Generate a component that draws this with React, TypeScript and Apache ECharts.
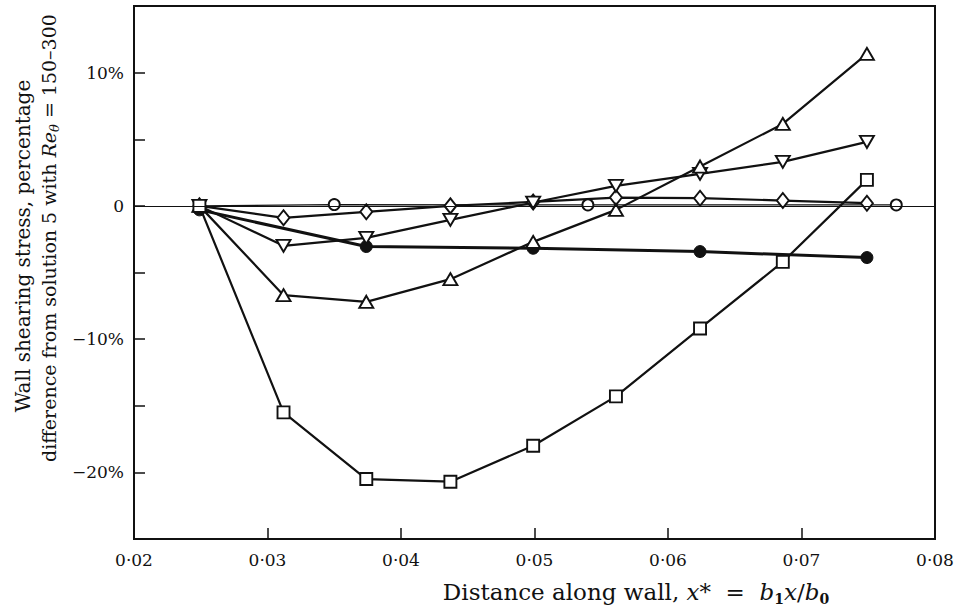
import React, { useEffect, useRef } from 'react';
import * as echarts from 'echarts';

// x* positions of the computed stations
const xStations = [0.0249, 0.0312, 0.0374, 0.0437, 0.0499, 0.0561, 0.0624, 0.0686, 0.0749];
// open squares
const squareY = [0, -15.5, -20.5, -20.7, -18.0, -14.3, -9.2, -4.2, 1.95];
// open triangles (apex up)
const triUpY = [0, -6.7, -7.2, -5.5, -2.7, -0.3, 2.95, 6.15, 11.4];
// open triangles (apex down)
const triDownY = [0, -3.0, -2.4, -1.05, 0.25, 1.5, 2.4, 3.3, 4.8];
// open diamonds
const diamondY = [0, -0.9, -0.45, 0, 0.3, 0.62, 0.58, 0.4, 0.2];
// filled circles
const dotX = [0.0249, 0.0374, 0.0499, 0.0624, 0.0749];
const dotY = [-0.3, -3.05, -3.18, -3.43, -3.88];
// open circles
const circleX = [0.0249, 0.035, 0.054, 0.0771];
const circleY = [0, 0.1, 0.07, 0.07];

// axis ticks / labels
const xMin = 0.02;
const xMax = 0.08;
const xStep = 0.01;
const yMin = -25;
const yMax = 15;
const yStep = 5;
const yLabels: Record<string, string> = { '10': '10%', '0': '0', '-10': '\u221210%', '-20': '\u221220%' };

const FONT = '"DejaVu Serif", "Liberation Serif", serif';
const INK = '#111';

const pair = (xs: number[], ys: number[]) => xs.map((x, i) => [x, ys[i]]);

export default function App() {
  const ref = useRef<HTMLDivElement>(null);
  useEffect(() => {
    if (!ref.current) return;
    const chart = echarts.init(ref.current, undefined, { renderer: 'svg' });
    const openItem = { color: '#fff', borderColor: INK, borderWidth: 1.9 };
    const line = { color: INK, width: 2.2 };
    const base = { type: 'line' as const, showSymbol: true, symbolKeepAspect: true, z: 3 };
    chart.setOption({
      animation: false,
      backgroundColor: '#fff',
      grid: {
        left: 134,
        right: 31,
        top: 6,
        bottom: 74,
        show: true,
        borderColor: INK,
        borderWidth: 2,
        backgroundColor: 'transparent',
      },
      xAxis: {
        type: 'value',
        min: xMin,
        max: xMax,
        interval: xStep,
        axisLine: { show: true, onZero: false, lineStyle: { color: INK, width: 2 } },
        axisTick: { show: true, inside: true, length: 11, lineStyle: { color: INK, width: 1.5 } },
        axisLabel: {
          color: INK,
          fontFamily: FONT,
          fontSize: 17,
          margin: 12,
          formatter: (v: number) => v.toFixed(2).replace('.', '\u00b7'),
        },
        splitLine: { show: false },
      },
      yAxis: {
        type: 'value',
        min: yMin,
        max: yMax,
        interval: yStep,
        axisLine: { show: true, onZero: false, lineStyle: { color: INK, width: 2 } },
        axisTick: { show: true, inside: true, length: 11, lineStyle: { color: INK, width: 1.5 } },
        axisLabel: {
          color: INK,
          fontFamily: FONT,
          fontSize: 17,
          margin: 10,
          formatter: (v: number) => yLabels[String(Math.round(v))] ?? '',
        },
        splitLine: { show: false },
      },
      graphic: [
        {
          type: 'text',
          x: 636,
          y: 592,
          style: {
            text: '{a|Distance along wall, }{i|x}{a|*  =  }{i|b}{s|1}{i|x}{a|/}{i|b}{s|0}',
            textAlign: 'center',
            textVerticalAlign: 'middle',
            fill: INK,
            rich: {
              a: { fontFamily: FONT, fontSize: 23, fill: INK, lineHeight: 28 },
              i: { fontFamily: FONT, fontSize: 23, fontStyle: 'italic', fill: INK, lineHeight: 28 },
              s: { fontFamily: FONT, fontSize: 14, fill: INK, fontWeight: 'bold', lineHeight: 14, verticalAlign: 'bottom' },
            },
          },
        },
        {
          type: 'text',
          x: 23,
          y: 246,
          rotation: Math.PI / 2,
          style: {
            text: 'Wall shearing stress, percentage',
            font: `20px ${FONT}`,
            textAlign: 'center',
            textVerticalAlign: 'middle',
            fill: INK,
          },
        },
        {
          type: 'text',
          x: 49,
          y: 238,
          rotation: Math.PI / 2,
          style: {
            text: '{a|difference from solution 5 with }{i|Re}{s|\u03b8}{a| = 150\u2013300}',
            textAlign: 'center',
            textVerticalAlign: 'middle',
            fill: INK,
            rich: {
              a: { fontFamily: FONT, fontSize: 19, fill: INK, lineHeight: 24 },
              i: { fontFamily: FONT, fontSize: 19, fontStyle: 'italic', fill: INK, lineHeight: 24 },
              s: { fontFamily: FONT, fontSize: 13, fontStyle: 'italic', fill: INK, lineHeight: 13, verticalAlign: 'bottom' },
            },
          },
        },
      ],
      series: [
        {
          ...base,
          name: 'circle',
          data: pair(circleX, circleY),
          symbol: 'circle',
          symbolSize: 11,
          lineStyle: { color: INK, width: 1.2 },
          itemStyle: openItem,
          markLine: {
            silent: true,
            symbol: 'none',
            label: { show: false },
            lineStyle: { color: INK, width: 1.2, type: 'solid' },
            data: [{ yAxis: 0 }],
          },
        },
        {
          ...base,
          name: 'diamond',
          data: pair(xStations, diamondY),
          symbol: 'diamond',
          symbolSize: [12, 15],
          lineStyle: line,
          itemStyle: openItem,
        },
        {
          ...base,
          name: 'dot',
          data: pair(dotX, dotY),
          symbol: 'circle',
          symbolSize: 12,
          lineStyle: { color: INK, width: 3 },
          itemStyle: { color: INK, borderColor: INK, borderWidth: 1 },
        },
        {
          ...base,
          name: 'triDown',
          data: pair(xStations, triDownY),
          symbol: 'triangle',
          symbolRotate: 180,
          symbolSize: [14, 12],
          lineStyle: line,
          itemStyle: openItem,
        },
        {
          ...base,
          name: 'triUp',
          data: pair(xStations, triUpY),
          symbol: 'triangle',
          symbolSize: [14, 12],
          lineStyle: line,
          itemStyle: openItem,
        },
        {
          ...base,
          name: 'square',
          data: pair(xStations, squareY),
          symbol: 'rect',
          symbolSize: 12,
          lineStyle: line,
          itemStyle: openItem,
        },
      ],
    });
    return () => chart.dispose();
  }, []);
  return <div ref={ref} style={{ position: 'fixed', left: 0, top: 0, width: 966, height: 613 }} />;
}
